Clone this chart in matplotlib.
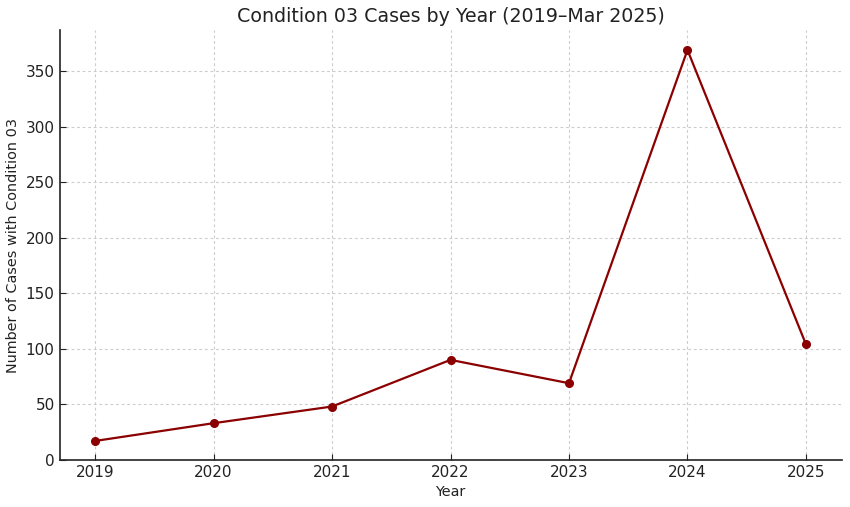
import matplotlib
matplotlib.use("Agg")
import matplotlib.pyplot as plt

years = [2019, 2020, 2021, 2022, 2023, 2024, 2025]
cases = [17, 33, 48, 90, 69, 369, 104]

plt.rcParams['font.family'] = ['DejaVu Sans']
plt.rcParams['text.color'] = '#222222'
plt.rcParams['axes.labelcolor'] = '#222222'
plt.rcParams['xtick.color'] = '#222222'
plt.rcParams['ytick.color'] = '#222222'

fig, ax = plt.subplots(figsize=(8.5, 5.07), dpi=100)
ax.plot(years, cases, marker='o', color='#8b0000', linewidth=1.6, markersize=5.5)
ax.set_title('Condition 03 Cases by Year (2019\u2013Mar 2025)', fontsize=13.7)
ax.set_xlabel('Year', fontsize=10.4)
ax.set_ylabel('Number of Cases with Condition 03', fontsize=10.4)
ax.set_xticks(years)
ax.set_ylim(bottom=0)
ax.grid(True, linestyle=(0, (2.5, 2.5)), color='#cccccc', linewidth=0.8)
ax.spines['top'].set_visible(False)
ax.spines['right'].set_visible(False)
for s in ('left', 'bottom'):
    ax.spines[s].set_color('#222222')
    ax.spines[s].set_linewidth(1.2)
ax.tick_params(labelsize=11, direction='in', length=4)
fig.subplots_adjust(left=0.07, right=0.99, top=0.94, bottom=0.093)
fig.savefig('out.png')
